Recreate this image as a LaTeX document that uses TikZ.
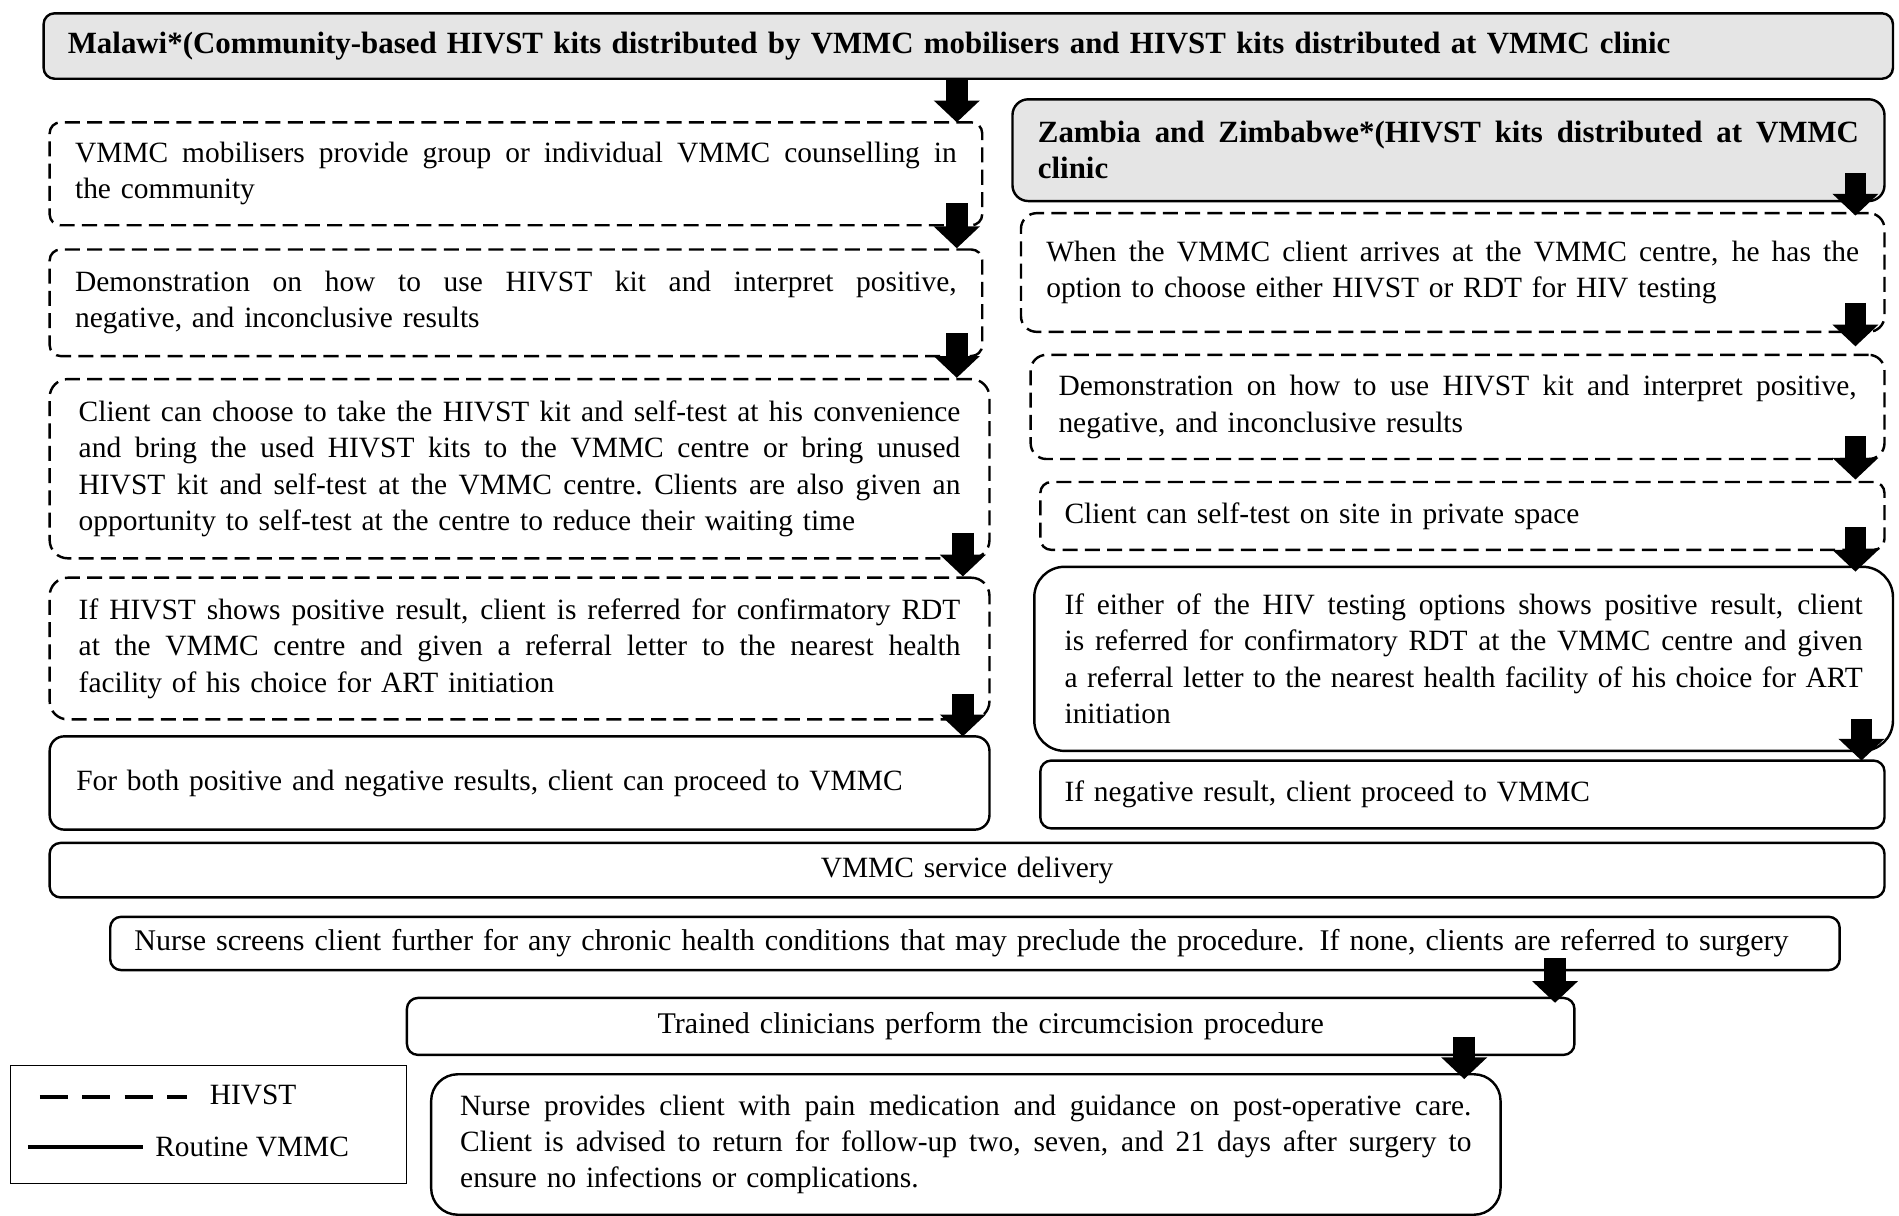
\documentclass[tikz,border=0pt]{standalone}
\usepackage{fontspec}
\setmainfont{Liberation Serif}
\usetikzlibrary{arrows.meta,calc}
\newcommand\fsz{\fontsize{24.3}{30}\selectfont}
\newcommand\hsz{\fontsize{25.5}{30}\selectfont}
\newlength\jw
\newcommand\jl[1]{\noindent\hbox to \jw{\spaceskip=0.25em plus 1fil\xspaceskip=0.25em plus 1fil #1}\\}
\begin{document}
\begin{tikzpicture}[x=1pt,y=1pt,
  base/.style={line width=2pt, rounded corners=9pt, inner xsep=21pt, inner ysep=0pt,
    anchor=north west, font=\fsz, align=left},
  tw/.style={text width=#1, /utils/exec={\global\jw=#1\relax}},
  solidbox/.style={base, draw},
  hivstbox/.style={base, draw, dash pattern=on 12.4pt off 6pt},
  hdrbox/.style={base, draw, fill=black!10, font=\hsz\bfseries},
  blk/.style={line width=18pt, -{Triangle[width=37pt,length=18pt]}},
  legline/.style={line width=3pt},
]
\useasboundingbox (0,0) rectangle (1568,-1004);

% ---- Malawi column
\node[hdrbox, inner xsep=20pt, tw=1487pt, minimum height=54pt] (hdrM) at (35,-10)
  {Malawi*(Community-based HIVST kits distributed by VMMC mobilisers and HIVST kits distributed at VMMC clinic};
\node[hivstbox, tw=728pt, minimum height=85pt] (L1) at (40,-100)
  {\jl{VMMC mobilisers provide group or individual VMMC counselling in}the community};
\node[hivstbox, tw=728pt, minimum height=88pt] (L2) at (40,-205)
  {\jl{Demonstration on how to use HIVST kit and interpret positive,}negative, and inconclusive results};
\node[hivstbox, rounded corners=15pt, inner xsep=24pt, tw=728pt, minimum height=148pt] (L3) at (40,-312)
  {\jl{Client can choose to take the HIVST kit and self-test at his convenience}\jl{and bring the used HIVST kits to the VMMC centre or bring unused}\jl{HIVST kit and self-test at the VMMC centre. Clients are also given an}opportunity to self-test at the centre to reduce their waiting time};
\node[hivstbox, rounded corners=15pt, inner xsep=24pt, tw=728pt, minimum height=117pt] (L4) at (40,-476)
  {\jl{If HIVST shows positive result, client is referred for confirmatory RDT}\jl{at the VMMC centre and given a referral letter to the nearest health}facility of his choice for ART initiation};
\node[solidbox, rounded corners=12pt, inner xsep=22pt, tw=732pt, minimum height=77pt] (L5) at (40,-607)
  {For both positive and negative results, client can proceed to VMMC};

% ---- Zambia / Zimbabwe column
\node[hdrbox, rounded corners=13pt, tw=678pt, minimum height=84pt] (hdrZ) at (835,-81)
  {\jl{Zambia and Zimbabwe*(HIVST kits distributed at VMMC}clinic};
\node[hivstbox, rounded corners=13pt, tw=671pt, minimum height=98pt] (R1) at (842,-175)
  {\jl{When the VMMC client arrives at the VMMC centre, he has the}option to choose either HIVST or RDT for HIV testing};
\node[hivstbox, rounded corners=13pt, inner xsep=23pt, tw=659pt, minimum height=86pt] (R2) at (850,-292)
  {\jl{Demonstration on how to use HIVST kit and interpret positive,}negative, and inconclusive results};
\node[hivstbox, inner xsep=20pt, tw=657pt, minimum height=56pt] (R3) at (858,-397)
  {Client can self-test on site in private space};
\node[solidbox, rounded corners=25pt, inner xsep=25pt, tw=659pt, minimum height=152pt] (R4) at (853,-467)
  {\jl{If either of the HIV testing options shows positive result, client}\jl{is referred for confirmatory RDT at the VMMC centre and given}\jl{a referral letter to the nearest health facility of his choice for ART}initiation};
\node[solidbox, inner xsep=20pt, tw=657pt, minimum height=56pt] (R5) at (858,-627)
  {If negative result, client proceed to VMMC};

% ---- common routine part
\node[solidbox, align=center, inner xsep=20pt, tw=1475pt, minimum height=45pt] (SD) at (40,-695)
  {VMMC service delivery};
\node[solidbox, inner xsep=20pt, tw=1388pt, minimum height=44pt, font=\fontsize{24.8}{30}\selectfont] (NS) at (90,-756)
  {Nurse screens client further for any chronic health conditions that may preclude the procedure. If none, clients are referred to surgery};
\node[solidbox, align=center, inner xsep=20pt, tw=924pt, minimum height=47pt, font=\fontsize{24.8}{30}\selectfont] (TC) at (335,-823)
  {Trained clinicians perform the circumcision procedure};
\node[solidbox, rounded corners=22pt, inner xsep=24pt, tw=835pt, minimum height=116pt] (NP) at (355,-886)
  {\jl{Nurse provides client with pain medication and guidance on post-operative care.}\jl{Client is advised to return for follow-up two, seven, and 21 days after surgery to}ensure no infections or complications.};

% ---- arrows
\coordinate (a0) at ($(L1.north east)+(-22,0)$);
\draw[blk] (a0 |- hdrM.south) -- ($(a0)+(0,-1)$);
\coordinate (a1) at ($(L1.south east)+(-22,19)$);
\draw[blk] (a1) -- (a1 |- L2.north);
\coordinate (a2) at ($(L2.south east)+(-22,20)$);
\draw[blk] (a2) -- (a2 |- L3.north);
\coordinate (a3) at ($(L3.south east)+(-23,22)$);
\draw[blk] (a3) -- (a3 |- L4.north);
\coordinate (a4) at ($(L4.south east)+(-23,22)$);
\draw[blk] (a4) -- ($(a4 |- L5.north)+(0,-1)$);

\coordinate (b0) at ($(hdrZ.south east)+(-25,24)$);
\draw[blk] (b0) -- ($(b0 |- R1.north)+(0,-3)$);
\coordinate (b1) at ($(R1.south east)+(-25,25)$);
\draw[blk] (b1) -- ($(b1 |- R2.north)+(0,6)$);
\coordinate (b2) at ($(R2.south east)+(-25,20)$);
\draw[blk] (b2) -- ($(b2 |- R3.north)+(0,1)$);
\coordinate (b3) at ($(R3.south east)+(-25,20)$);
\draw[blk] (b3) -- ($(b3 |- R4.north)+(0,-5)$);
\coordinate (b4) at ($(R4.south east)+(-27,27)$);
\draw[blk] (b4) -- ($(b4 |- R5.north)+(0,-1)$);

\coordinate (c1) at ($(TC.north east |- NS.south)+(-17,11)$);
\draw[blk] (c1) -- ($(c1 |- TC.north)+(0,-5)$);
\coordinate (c2) at ($(NP.north east |- TC.south)+(-31,16)$);
\draw[blk] (c2) -- ($(c2 |- NP.north)+(0,-5)$);

% ---- legend
\node[draw, line width=1pt, minimum width=327pt, minimum height=98pt, anchor=north west, inner sep=0pt] (leg) at (8,-879) {};
\draw[legline, dash pattern=on 23pt off 12pt] ($(leg.north west)+(25,-27)$) -- ++(121,0);
\node[anchor=west, font=\fsz, inner sep=0pt] (legH) at ($(leg.north west)+(165,-25)$) {HIVST};
\draw[legline] ($(leg.north west)+(15,-68)$) -- ++(95,0);
\node[anchor=west, font=\fsz, inner sep=0pt] (legR) at ($(leg.north west)+(120,-68)$) {Routine VMMC};
\end{tikzpicture}
\end{document}
